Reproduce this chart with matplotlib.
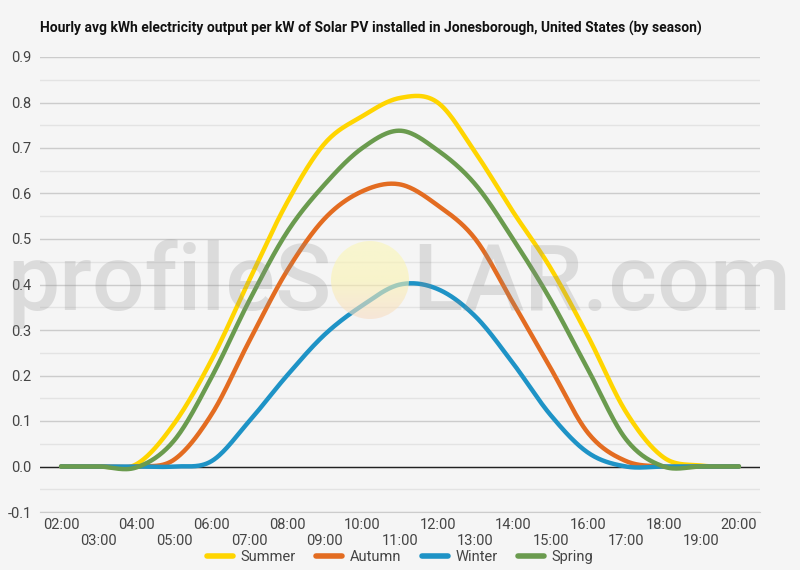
import numpy as np
import matplotlib
matplotlib.use("Agg")
import matplotlib.pyplot as plt
from matplotlib.patches import Circle
from matplotlib.colors import LinearSegmentedColormap

plt.rcParams['font.family'] = ['Roboto', 'DejaVu Sans']

title = "Hourly avg kWh electricity output per kW of Solar PV installed in Jonesborough, United States (by season)"
hours = list(range(2, 21))
hour_labels = [f"{h:02d}:00" for h in hours]
summer = [0, 0, 0.005, 0.094, 0.235, 0.41, 0.58, 0.71, 0.77, 0.81, 0.80, 0.69, 0.56, 0.436, 0.285, 0.12, 0.02, 0.002, 0]
autumn = [0, 0, 0, 0.015, 0.115, 0.276, 0.43, 0.545, 0.605, 0.62, 0.574, 0.50, 0.36, 0.216, 0.073, 0.012, 0, 0, 0]
winter = [0, 0, 0, 0, 0.012, 0.10, 0.20, 0.29, 0.354, 0.40, 0.39, 0.33, 0.227, 0.113, 0.03, 0, 0, 0, 0]
spring = [0, 0, -0.002, 0.057, 0.197, 0.365, 0.515, 0.62, 0.70, 0.738, 0.695, 0.62, 0.50, 0.366, 0.212, 0.06, 0, 0, 0]
series = [("Summer", summer, "#FFD500"), ("Autumn", autumn, "#E36C21"),
          ("Winter", winter, "#1E93C6"), ("Spring", spring, "#6A9B4E")]


def catmull_rom(x, y, n=30):
    x = np.asarray(x, float); y = np.asarray(y, float)
    xp = np.concatenate([[x[0]], x, [x[-1]]])
    yp = np.concatenate([[y[0]], y, [y[-1]]])
    xs, ys = [], []
    t = np.linspace(0, 1, n, endpoint=False)
    for i in range(1, len(xp) - 2):
        p0, p1, p2, p3 = yp[i-1], yp[i], yp[i+1], yp[i+2]
        m1 = (p2 - p0) / 2; m2 = (p3 - p1) / 2
        h00 = 2*t**3 - 3*t**2 + 1; h10 = t**3 - 2*t**2 + t
        h01 = -2*t**3 + 3*t**2; h11 = t**3 - t**2
        ys.append(h00*p1 + h10*m1 + h01*p2 + h11*m2)
        xs.append(xp[i] + t*(xp[i+1]-xp[i]))
    xs.append([x[-1]]); ys.append([y[-1]])
    return np.concatenate(xs), np.concatenate(ys)


W, H = 800, 570
fig = plt.figure(figsize=(8, 5.7), dpi=100, facecolor="#f5f5f5")
ax = fig.add_axes([40/W, 1 - 512/H, 720/W, (512 - 57)/H])
ax.set_facecolor("#f5f5f5")

ax.set_ylim(-0.1, 0.9)
ax.set_xlim(2 - 0.56, 20 + 0.56)
yt = np.arange(-0.1, 0.91, 0.1)
ax.set_yticks(yt)
ax.set_yticklabels([f"{v:.1f}" for v in yt])
ax.set_yticks(np.arange(-0.05, 0.9, 0.1), minor=True)
ax.grid(axis='y', which='major', color="#cccccc", lw=1)
ax.grid(axis='y', which='minor', color="#e3e3e3", lw=1)
ax.set_xticks(hours)
ax.set_xticklabels([lab if i % 2 == 0 else "\n" + lab for i, lab in enumerate(hour_labels)])
ax.tick_params(axis='both', which='both', length=0, labelsize=10.5, labelcolor="#444444")
ax.tick_params(axis='y', pad=6)
ax.tick_params(axis='x', pad=4)
for s in ['top', 'right', 'left']:
    ax.spines[s].set_visible(False)
ax.spines['bottom'].set_color("#cccccc")
ax.axhline(0, color="#222222", lw=1, zorder=2)

for name, vals, col in series:
    xs, ys = catmull_rom(hours, vals)
    ax.plot(xs, ys, color=col, lw=3.2, label=name, zorder=3, solid_capstyle='round')

# watermark
fig.text(332/W, 1 - 310/H, "profileS", ha='right', va='baseline', fontsize=67,
         fontweight='medium', color="#8c8c8c", alpha=0.24, zorder=10)
fig.text(412/W, 1 - 310/H, "LAR.com", ha='left', va='baseline', fontsize=67,
         fontweight='medium', color="#8c8c8c", alpha=0.24, zorder=10)
cx, cy, r = 370, 280, 39
sun_ax = fig.add_axes([(cx - r)/W, 1 - (cy + r)/H, 2*r/W, 2*r/H], zorder=10)
sun_ax.axis('off')
sun_ax.patch.set_alpha(0)
cmap = LinearSegmentedColormap.from_list("sun", ["#fbf7b8", "#fbf3b0", "#f8dcc4"])
grad = np.linspace(0, 1, 100).reshape(-1, 1)
im = sun_ax.imshow(grad, cmap=cmap, extent=[0, 1, 0, 1], origin='upper', aspect='auto', alpha=0.6)
sun_ax.set_xlim(0, 1); sun_ax.set_ylim(0, 1)
clip = Circle((0.5, 0.5), 0.5, transform=sun_ax.transData)
im.set_clip_path(clip)

fig.text(40/W, 1 - 28/H, title, ha='left', va='center', fontsize=10,
         fontweight='bold', color="#111111")

leg = fig.legend(loc='center', bbox_to_anchor=(0.5, 1 - 557/H), ncol=4, frameon=False,
                 fontsize=10.5, handlelength=1.8, handletextpad=0.5, columnspacing=1.4)
for t in leg.get_texts():
    t.set_color("#444444")
for l in leg.get_lines():
    l.set_linewidth(4)

fig.savefig("out.png", dpi=100, facecolor=fig.get_facecolor())
